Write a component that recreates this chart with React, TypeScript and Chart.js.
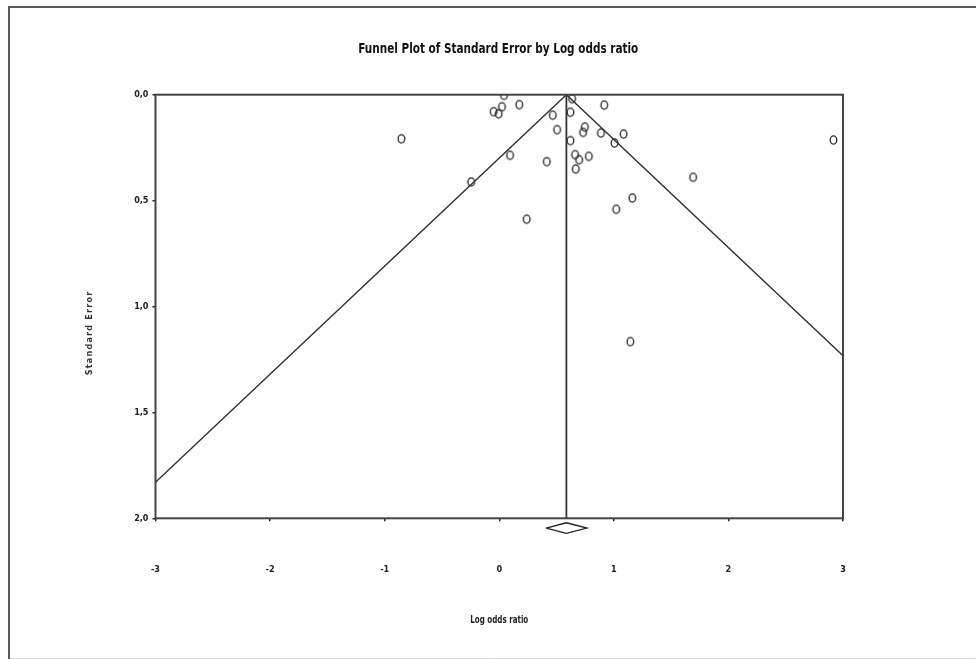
import React, { useEffect, useRef } from "react";
import Chart from "chart.js/auto";

// ---- data ----
const studyLogOR = [
  0.041, 0.024, -0.049, -0.005, 0.175, 0.636, 0.467, 0.621, 0.916, 0.505,
  0.747, 0.732, 0.887, 1.085, 1.006, 0.621, 0.094, 0.415, 0.662, 0.697,
  0.782, 0.668, -0.245, 0.24, 1.021, 1.161, 1.692, -0.854, 2.917, 1.144,
];
const studySE = [
  0.003, 0.057, 0.08, 0.09, 0.047, 0.019, 0.097, 0.083, 0.049, 0.165,
  0.153, 0.178, 0.181, 0.186, 0.228, 0.217, 0.286, 0.316, 0.283, 0.307,
  0.291, 0.351, 0.412, 0.588, 0.541, 0.488, 0.39, 0.208, 0.214, 1.166,
];
const funnelX = [-3, 0.586, 3];
const funnelSE = [1.83, 0, 1.232];
const centerX = [0.586, 0.586];
const centerSE = [0, 2];
const diamondX = [0.409, 0.586, 0.765, 0.586, 0.409];
const diamondSE = [2.046, 2.021, 2.046, 2.071, 2.046];
const xTickLabels = ["-3", "-2", "-1", "0", "1", "2", "3"];
const yTickLabels = ["0,0", "0,5", "1,0", "1,5", "2,0"];

const TITLE = "Funnel Plot of Standard Error by Log odds ratio";
const X_TITLE = "Log odds ratio";
const Y_TITLE = "Standard Error";
const NARROW = '"Liberation Sans Narrow", "DejaVu Sans Condensed", Arial, sans-serif';

const zip = (xs: number[], ys: number[]) => xs.map((x, i) => ({ x, y: ys[i] }));

function makeOval(): HTMLCanvasElement {
  const c = document.createElement("canvas");
  c.width = 11;
  c.height = 12;
  const g = c.getContext("2d")!;
  g.strokeStyle = "#222222";
  g.lineWidth = 1.3;
  g.beginPath();
  g.ellipse(5.5, 6, 3.3, 4.1, 0, 0, Math.PI * 2);
  g.stroke();
  return c;
}

export default function App() {
  const ref = useRef<HTMLCanvasElement | null>(null);

  useEffect(() => {
    if (!ref.current) return;
    const oval = makeOval();

    const framePlugin = {
      id: "frames",
      beforeDraw(chart: any) {
        const ctx = chart.ctx;
        ctx.save();
        ctx.fillStyle = "#ffffff";
        ctx.fillRect(0, 0, chart.width, chart.height);
        ctx.strokeStyle = "#d4d4d4";
        ctx.lineWidth = 1;
        ctx.beginPath();
        ctx.moveTo(8, 658.5);
        ctx.lineTo(975.5, 658.5);
        ctx.stroke();
        ctx.strokeStyle = "#5a5a5a";
        ctx.lineWidth = 2;
        ctx.beginPath();
        ctx.moveTo(9, 659);
        ctx.lineTo(9, 7);
        ctx.lineTo(976, 7);
        ctx.stroke();
        ctx.restore();
      },
      afterDraw(chart: any) {
        const ctx = chart.ctx;
        const a = chart.chartArea;
        ctx.save();
        ctx.strokeStyle = "#444444";
        ctx.lineWidth = 2;
        ctx.strokeRect(a.left, a.top, a.right - a.left, a.bottom - a.top);
        ctx.fillStyle = "#111111";
        ctx.textAlign = "center";
        ctx.textBaseline = "middle";
        // chart title, compressed horizontally like the narrow original font
        ctx.save();
        ctx.font = `bold 14px ${NARROW}`;
        const w = ctx.measureText(TITLE).width;
        ctx.translate((a.left + a.right) / 2 - 1, 49);
        ctx.scale(280 / w, 1);
        ctx.fillText(TITLE, 0, 0);
        ctx.restore();
        // x axis title
        ctx.fillStyle = "#222222";
        ctx.save();
        ctx.font = `bold 9px ${NARROW}`;
        const wx = ctx.measureText(X_TITLE).width;
        ctx.translate((a.left + a.right) / 2, 620);
        ctx.scale(58 / wx, 1.1);
        ctx.fillText(X_TITLE, 0, 0);
        ctx.restore();
        // y axis title
        ctx.fillStyle = "#333333";
        ctx.translate(90, 333);
        ctx.rotate(-Math.PI / 2);
        (ctx as any).letterSpacing = "1.2px";
        ctx.font = `bold 9px ${NARROW}`;
        ctx.fillText(Y_TITLE, 0, 0);
        ctx.restore();
      },
    };

    const chart = new Chart(ref.current, {
      type: "scatter",
      data: {
        datasets: [
          {
            label: "funnel",
            data: zip(funnelX, funnelSE),
            showLine: true,
            borderColor: "#333333",
            borderWidth: 1.4,
            pointRadius: 0,
          } as any,
          {
            label: "center",
            data: zip(centerX, centerSE),
            showLine: true,
            borderColor: "#333333",
            borderWidth: 1.8,
            pointRadius: 0,
          },
          {
            label: "diamond",
            data: zip(diamondX, diamondSE),
            showLine: true,
            borderColor: "#222222",
            borderWidth: 1.3,
            pointRadius: 0,
            clip: false,
          },
          {
            label: "studies",
            data: zip(studyLogOR, studySE),
            showLine: false,
            pointStyle: oval,
            pointRadius: 4,
            borderColor: "#222222",
            backgroundColor: "rgba(0,0,0,0)",
          },
        ],
      },
      options: {
        animation: false,
        responsive: false,
        events: [],
        layout: { padding: { left: 0, right: 133, top: 94.7, bottom: 0 } },
        plugins: {
          legend: { display: false },
          tooltip: { enabled: false },
          title: { display: false },
        },
        scales: {
          x: {
            type: "linear",
            min: -3,
            max: 3,
            afterFit: (s: any) => {
              s.height = 140.7;
            },
            grid: {
              display: true,
              drawOnChartArea: false,
              drawTicks: true,
              tickLength: 3,
              color: "#222222",
              lineWidth: 1.5,
            },
            border: { display: false },
            ticks: {
              stepSize: 1,
              padding: 43,
              maxRotation: 0,
              color: "#222222",
              font: { family: NARROW, size: 9, weight: "bold" },
              callback: (v: any) => {
                const i = Math.round(Number(v)) + 3;
                return xTickLabels[i] ?? "";
              },
            },
          },
          y: {
            type: "linear",
            min: 0,
            max: 2,
            reverse: true,
            afterFit: (s: any) => {
              s.width = 155.5;
            },
            grid: {
              display: true,
              drawOnChartArea: false,
              drawTicks: true,
              tickLength: 3,
              color: "#222222",
              lineWidth: 1.5,
            },
            border: { display: false },
            ticks: {
              stepSize: 0.5,
              padding: 4,
              color: "#222222",
              font: { family: NARROW, size: 9, weight: "bold" },
              callback: (v: any) => {
                const i = Math.round(Number(v) * 2);
                return yTickLabels[i] ?? "";
              },
            },
          },
        },
      },
      plugins: [framePlugin],
    } as any);

    return () => chart.destroy();
  }, []);

  return (
    <div style={{ position: "fixed", left: 0, top: 0, width: 976, height: 659, background: "#fff" }}>
      <canvas ref={ref} width={976} height={659} style={{ display: "block" }} />
    </div>
  );
}
